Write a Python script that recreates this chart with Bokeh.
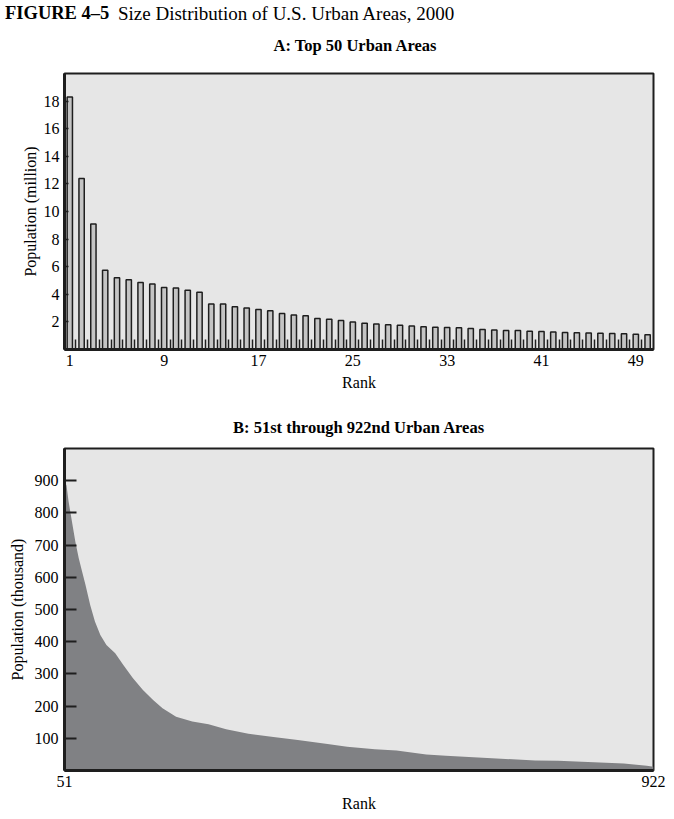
from bokeh.plotting import figure
from bokeh.models import Range1d, FixedTicker, Div
from bokeh.layouts import column
from bokeh.embed import file_html
from bokeh.resources import INLINE

# ---------------- data ----------------
ranks_a = list(range(1, 51))
pop_a_million = [18.3, 12.4, 9.1, 5.75, 5.2, 5.05, 4.85, 4.75, 4.5, 4.45,
                 4.3, 4.15, 3.3, 3.3, 3.1, 3.0, 2.9, 2.8, 2.6, 2.5,
                 2.45, 2.25, 2.2, 2.1, 2.0, 1.9, 1.85, 1.8, 1.75, 1.7,
                 1.65, 1.62, 1.6, 1.57, 1.52, 1.45, 1.42, 1.38, 1.37, 1.32,
                 1.3, 1.26, 1.23, 1.21, 1.2, 1.18, 1.16, 1.14, 1.1, 1.06]
xticks_a = [1, 9, 17, 25, 33, 41, 49]
yticks_a = [2, 4, 6, 8, 10, 12, 14, 16, 18]

ranks_b = [51, 54, 57, 62, 67, 72, 77, 82, 89, 96, 104, 113, 126, 138, 152,
           167, 182, 196, 216, 240, 264, 290, 323, 360, 396, 440, 469, 510,
           542, 586, 615, 683, 747, 781, 878, 912, 922]
pop_b_thousand = [900, 885, 836, 773, 711, 660, 618, 577, 514, 463, 421, 390,
                  364, 328, 287, 250, 219, 193, 167, 152, 144, 128, 114, 104,
                  95, 82, 74, 66, 62, 50, 46, 38, 31, 30, 22, 15, 12]
xticks_b = [51, 922]
yticks_b = [100, 200, 300, 400, 500, 600, 700, 800, 900]

header_bold = "FIGURE 4&ndash;5"
header_text = "Size Distribution of U.S. Urban Areas, 2000"
title_a = "A: Top 50 Urban Areas"
title_b = "B: 51st through 922nd Urban Areas"

SERIF = "Liberation Serif"
BG = "#e6e6e6"
DARK = "#1e1e1e"
W = 674


def style_axes(p):
    p.grid.visible = False
    for ax in (p.xaxis[0], p.yaxis[0]):
        ax.axis_line_width = 3
        ax.axis_line_color = DARK
        ax.major_label_text_font = SERIF
        ax.major_label_text_font_size = "16px"
        ax.major_label_text_color = "black"
        ax.axis_label_text_font = SERIF
        ax.axis_label_text_font_size = "16px"
        ax.axis_label_text_font_style = "normal"
        ax.axis_label_text_color = "black"
        ax.major_tick_out = 0
        ax.minor_tick_out = 0
        ax.minor_tick_in = 0
        ax.major_label_standoff = 5
        ax.axis_label_standoff = 5


# ---------------- header + title of panel A ----------------
span = "position:absolute;white-space:nowrap;font-family:'Liberation Serif';color:black;"
header = Div(
    text=(f"<div style='position:relative;width:{W}px;height:58px;'>"
          f"<span style=\"{span}left:5px;top:4px;font-size:18.5px;line-height:18.5px;font-weight:bold;\">{header_bold}</span>"
          f"<span style=\"{span}left:118px;top:4px;font-size:19px;line-height:19px;\">{header_text}</span>"
          f"<span style=\"{span}left:155px;top:38px;width:400px;text-align:center;font-size:16.5px;line-height:16.5px;font-weight:bold;\">{title_a}</span>"
          "</div>"),
    width=W, height=58, margin=0,
    styles={"margin": "0", "padding": "0"},
)

# ---------------- panel A ----------------
pA = figure(width=W, height=343, x_range=Range1d(0.55, 50.5), y_range=Range1d(0, 20),
            output_backend="svg", toolbar_location=None,
            min_border_left=58, min_border_right=21, min_border_top=15, min_border_bottom=52,
            background_fill_color=BG, border_fill_color="white",
            outline_line_color=DARK, outline_line_width=2)

pA.vbar(x=ranks_a, top=pop_a_million, width=0.45, bottom=0,
        fill_color="#c4c4c4", line_color=DARK, line_width=1.5)

style_axes(pA)
pA.xaxis.ticker = FixedTicker(ticks=xticks_a, minor_ticks=[r + 0.5 for r in ranks_a[:-1]])
pA.xaxis.major_tick_in = 0
pA.xaxis.minor_tick_in = 10
pA.xaxis.minor_tick_line_width = 1.5
pA.xaxis.minor_tick_line_color = DARK
pA.xaxis.axis_label = "Rank"
pA.yaxis.ticker = FixedTicker(ticks=yticks_a)
pA.yaxis.major_tick_in = 4
pA.yaxis.major_tick_line_width = 1.5
pA.yaxis.major_tick_line_color = DARK
pA.yaxis.axis_label = "Population (million)"
pA.yaxis.major_label_standoff = 5
pA.yaxis.axis_label_standoff = 2

# ---------------- panel B ----------------
pB = figure(width=W, height=418, x_range=Range1d(51, 922), y_range=Range1d(0, 1000),
            output_backend="svg", toolbar_location=None,
            min_border_left=64, min_border_right=14, min_border_top=47, min_border_bottom=49,
            background_fill_color=BG, border_fill_color="white",
            outline_line_color=DARK, outline_line_width=2,
            title=title_b)
pB.title.align = "center"
pB.title.vertical_align = "bottom"
pB.title.text_font = SERIF
pB.title.text_font_size = "16.5px"
pB.title.text_font_style = "bold"
pB.title.text_color = "black"
pB.title.standoff = 23

pB.varea(x=ranks_b, y1=0, y2=pop_b_thousand, fill_color="#808184")

style_axes(pB)
pB.xaxis.ticker = FixedTicker(ticks=xticks_b)
pB.xaxis.major_tick_in = 0
pB.xaxis.axis_label = "Rank"
pB.yaxis.ticker = FixedTicker(ticks=yticks_b)
pB.yaxis.major_tick_in = 12
pB.yaxis.major_tick_line_width = 2
pB.yaxis.major_tick_line_color = DARK
pB.yaxis.axis_label = "Population (thousand)"
pB.yaxis.major_label_standoff = 6
pB.yaxis.axis_label_standoff = 6

layout = column(header, pA, pB, spacing=0)
open("out.html", "w").write(file_html(layout, INLINE))
